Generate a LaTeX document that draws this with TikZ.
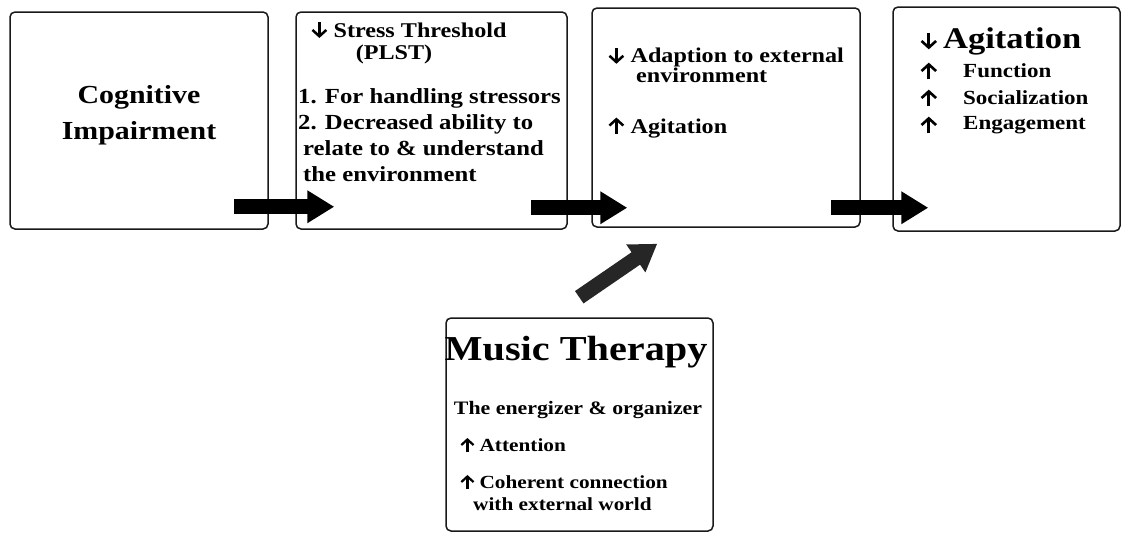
\documentclass[tikz,border=0pt]{standalone}
\usepackage{fontspec}
\setmainfont{Liberation Serif}[FakeStretch=1.15]
\usetikzlibrary{arrows.meta,calc}
\newcommand\upar{\tikz[x=1em,y=1em,baseline=0pt]\draw[line width=0.12em,-{Straight Barb[length=0.3em,width=0.66em]}] (0,-0.02) -- (0,0.74);}
\newcommand\dnar{\tikz[x=1em,y=1em,baseline=0pt]\draw[line width=0.12em,-{Straight Barb[length=0.3em,width=0.66em]}] (0,0.72) -- (0,-0.04);}
\begin{document}
\begin{tikzpicture}[x=1pt,y=-1pt,
  box/.style={draw=black!90,line width=1.5pt,rounded corners=5pt,inner sep=0pt},
  txt/.style={inner sep=0pt,font=\bfseries,text=black},
  blk/.style={line width=15pt,draw=black,-{Triangle[length=27pt,width=31pt]}},
  dblk/.style={line width=15pt,draw=black!85,-{Triangle[length=26pt,width=32pt]}}]
\useasboundingbox (0,0) rectangle (1122,533);
% boxes
\node[box,minimum width=258pt,minimum height=217pt] (b1) at (139,120.5) {};
\node[box,minimum width=271pt,minimum height=217pt] (b2) at (431.5,120.5) {};
\node[box,minimum width=268pt,minimum height=219pt] (b3) at (726,117.5) {};
\node[box,minimum width=227pt,minimum height=224pt] (b4) at (1006.5,119) {};
\node[box,minimum width=267pt,minimum height=213pt] (m) at (579.5,424.5) {};
% box 1 text
\node[txt,align=center,font=\fontsize{26}{36}\selectfont\bfseries] (t1) at (139,115) {Cognitive\\Impairment};
% box 2 text
\node[txt,anchor=west,font=\fontsize{21}{24}\selectfont\bfseries] (t2a) at (311,30) {\dnar\ Stress Threshold};
\node[txt,font=\fontsize{21}{24}\selectfont\bfseries] (t2b) at (394,54) {(PLST)};
\node[txt,anchor=north west,align=left,font=\fontsize{21.5}{26}\selectfont\bfseries] (t2c) at (298,88)
  {1. For handling stressors\\2. Decreased ability to\\\hspace*{5pt}relate to \& understand\\\hspace*{5pt}the environment};
% box 3 text
\node[txt,anchor=west,font=\fontsize{21}{24}\selectfont\bfseries] (t3a) at (608,57) {\dnar\ Adaption to external};
\node[txt,anchor=west,font=\fontsize{21}{24}\selectfont\bfseries] (t3b) at (636,75) {environment};
\node[txt,anchor=west,font=\fontsize{21}{24}\selectfont\bfseries] (t3c) at (608,127) {\upar\ Agitation};
% box 4 text
\node[txt,anchor=west,font=\fontsize{22}{24}\selectfont\bfseries] (t4aa) at (920,41) {\dnar};
\node[txt,anchor=west,font=\fontsize{30}{34}\selectfont\bfseries] (t4a) at (943,41) {Agitation};
\node[txt,anchor=west,font=\fontsize{22}{24}\selectfont\bfseries] (t4bb) at (920,71) {\upar};
\node[txt,anchor=west,font=\fontsize{20}{24}\selectfont\bfseries] (t4b) at (963,71) {Function};
\node[txt,anchor=west,font=\fontsize{22}{24}\selectfont\bfseries] (t4cc) at (920,98) {\upar};
\node[txt,anchor=west,font=\fontsize{20}{24}\selectfont\bfseries] (t4c) at (963,98) {Socialization};
\node[txt,anchor=west,font=\fontsize{22}{24}\selectfont\bfseries] (t4dd) at (920,125) {\upar};
\node[txt,anchor=west,font=\fontsize{20}{24}\selectfont\bfseries] (t4d) at (963,125) {Engagement};
% music therapy text
\node[txt,font=\fontsize{35}{40}\selectfont\bfseries] (m1) at (576,352) {Music Therapy};
\node[txt,font=\fontsize{19}{22}\selectfont\bfseries] (m2) at (578,410) {The energizer \& organizer};
\node[txt,anchor=west,font=\fontsize{18.5}{22}\selectfont\bfseries] (m3) at (460,445) {\upar\hspace{5pt}Attention};
\node[txt,anchor=west,font=\fontsize{18.5}{22}\selectfont\bfseries] (m4) at (460,482) {\upar\hspace{5pt}Coherent connection};
\node[txt,anchor=west,font=\fontsize{18.5}{22}\selectfont\bfseries] (m5) at (473,504) {with external world};
% arrows
\coordinate (a1s) at ($(b1.south east)+(-35,-23)$);
\coordinate (a1e) at ($(b2.south west)+(39,-23)$);
\coordinate (a2s) at ($(b2.south east)+(-37,-22)$);
\coordinate (a2e) at ($(b3.south west)+(36,-20)$);
\coordinate (a3s) at ($(b3.south east)+(-30,-20)$);
\coordinate (a3e) at ($(b4.south west)+(36,-24)$);
\coordinate (a4s) at ($(m.north west)+(134,-20)$);
\coordinate (a4e) at ($(b3.south west)+(66,16)$);
\draw[blk] (a1s) -- (a1e);
\draw[blk] (a2s) -- (a2e);
\draw[blk] (a3s) -- (a3e);
\draw[dblk] (a4s) -- (a4e);
\end{tikzpicture}
\end{document}
